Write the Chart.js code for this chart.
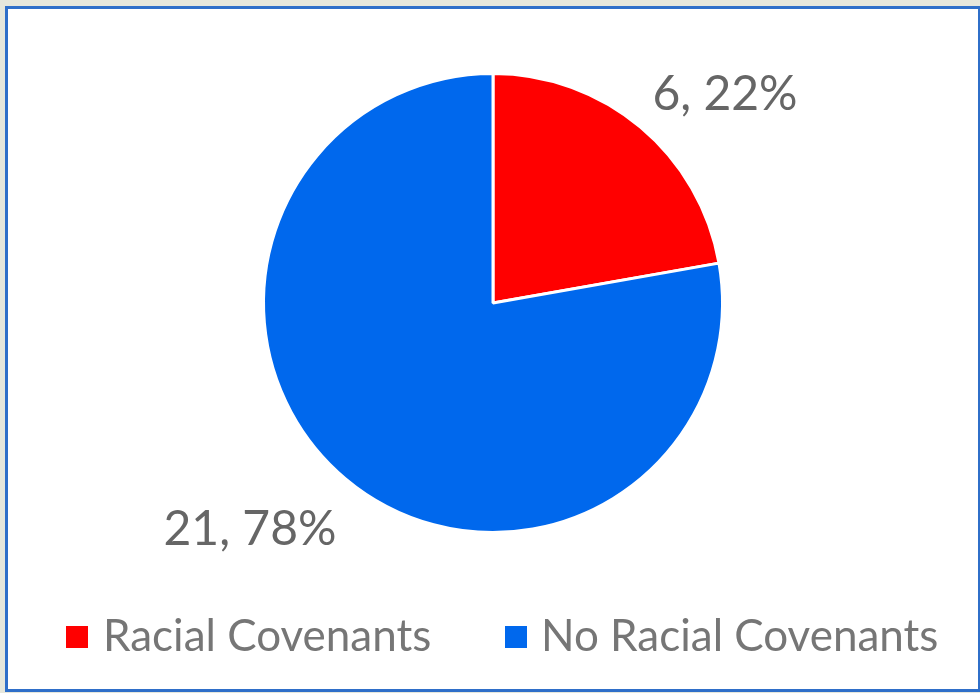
<!DOCTYPE html>
<html>
<head>
<meta charset="utf-8">
<title>Racial Covenants</title>
<script src="https://cdn.jsdelivr.net/npm/chart.js@4"></script>
<style>
  html, body { margin: 0; height: 100%; background: #e6e7dc; overflow: hidden; }
  #frame {
    position: absolute; left: 5px; top: 6px; width: 970px; height: 680px;
    border: 3px solid #2f6fc9; background: #fff;
  }
  #frame canvas { display: block; }
</style>
</head>
<body>
<div id="frame"><canvas id="chart-pie" width="970" height="680"></canvas></div>
<script>
const categories = ["Racial Covenants", "No Racial Covenants"];
const counts = [6, 21];
const percents = [22, 78];
const sliceColors = ["#ff0000", "#0068ed"];

const fontFamily = 'Lato, "Open Sans", sans-serif';

// Las etiquetas van fuera del pastel, desplazadas desde el centro
const labelOffsets = [
  { x: 232, y: -193 },
  { x: -243, y: 242 },
];

// Posición de cada entrada de la leyenda dentro del canvas
const legendSlots = [
  { box: 58, text: 95 },
  { box: 497, text: 533 },
];

const sliceLabels = {
  id: "sliceLabels",
  afterDatasetsDraw(chart) {
    const { ctx } = chart;
    const arcs = chart.getDatasetMeta(0).data;
    ctx.save();
    ctx.font = `48px ${fontFamily}`;
    ctx.fillStyle = "#666666";
    ctx.textAlign = "center";
    ctx.textBaseline = "alphabetic";
    arcs.forEach((arc, i) => {
      const text = `${counts[i]}, ${percents[i]}%`;
      ctx.fillText(text, arc.x + labelOffsets[i].x, arc.y + labelOffsets[i].y);
    });
    ctx.restore();
  },
};

// Leyenda propia: la de Chart.js no deja ajustar la separación entre cuadro y texto
const bottomLegend = {
  id: "bottomLegend",
  afterDraw(chart) {
    const { ctx } = chart;
    ctx.save();
    ctx.font = `44px ${fontFamily}`;
    ctx.textAlign = "left";
    ctx.textBaseline = "alphabetic";
    categories.forEach((name, i) => {
      ctx.fillStyle = sliceColors[i];
      ctx.fillRect(legendSlots[i].box, 617, 22, 22);
      ctx.fillStyle = "#767676";
      ctx.fillText(name, legendSlots[i].text, 642);
    });
    ctx.restore();
  },
};

new Chart(document.getElementById("chart-pie"), {
  type: "pie",
  data: {
    labels: categories,
    datasets: [
      {
        data: counts,
        backgroundColor: sliceColors,
        borderColor: "#ffffff",
        borderWidth: 3,
      },
    ],
  },
  options: {
    responsive: false,
    animation: false,
    layout: { padding: { top: 63, bottom: 155 } },
    plugins: {
      tooltip: { enabled: false },
      legend: { display: false },
    },
  },
  plugins: [sliceLabels, bottomLegend],
});
</script>
</body>
</html>
